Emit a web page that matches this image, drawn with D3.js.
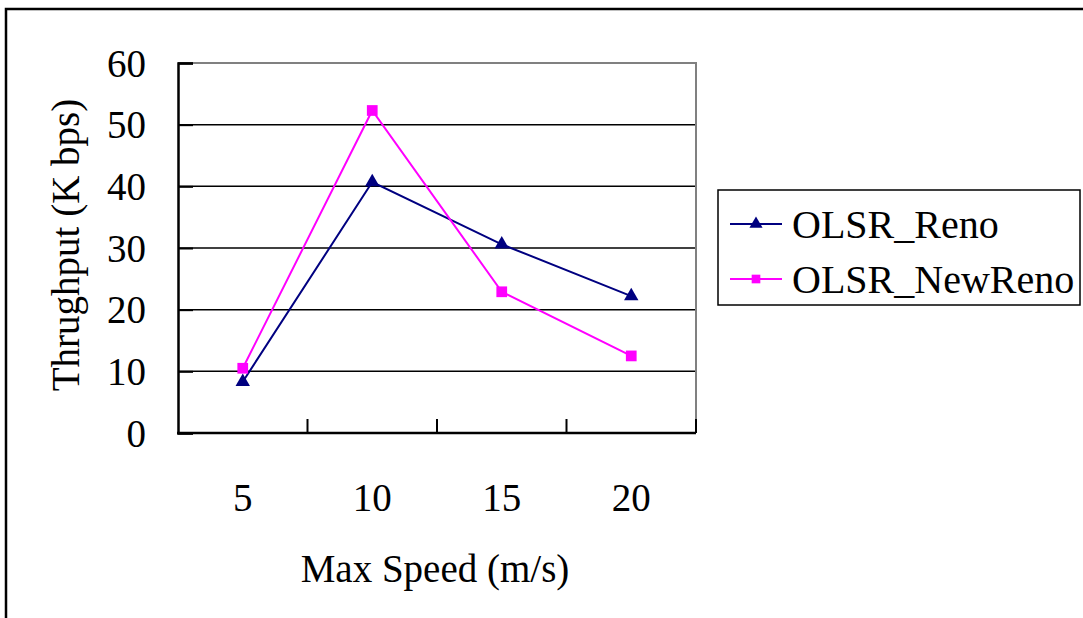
<!DOCTYPE html>
<html>
<head>
<meta charset="utf-8">
<script src="https://cdn.jsdelivr.net/npm/d3@7"></script>
<style>
  body { margin: 0; background: #fff; }
  svg text { font-family: "Liberation Serif", "Times New Roman", serif; fill: #000; }
</style>
</head>
<body>
<div id="chart"></div>
<script>
// chart data
const speeds = ["5", "10", "15", "20"];
const renoValues = [8.3, 40.7, 30.6, 22.2];
const newRenoValues = [10.5, 52.3, 22.9, 12.5];
const yTicks = [0, 10, 20, 30, 40, 50, 60];
const seriesNames = ["OLSR_Reno", "OLSR_NewReno"];

const width = 1083;
const height = 618;

const svg = d3.select("#chart")
    .append("svg")
    .attr("width", width)
    .attr("height", height);

// outer frame (only top and left edges visible)
svg.append("rect")
    .attr("x", 6).attr("y", 9)
    .attr("width", 1200).attr("height", 700)
    .attr("fill", "none")
    .attr("stroke", "#000")
    .attr("stroke-width", 2.5);

const plot = { left: 178, right: 696, top: 63, bottom: 433 };

const x = d3.scaleBand()
    .domain(speeds)
    .range([plot.left, plot.right]);

const y = d3.scaleLinear()
    .domain([0, 60])
    .range([plot.bottom, plot.top]);

// gridlines
svg.append("g")
    .selectAll("line")
    .data(yTicks.filter(d => d > 0 && d < 60))
    .enter()
    .append("line")
    .attr("x1", plot.left).attr("x2", plot.right)
    .attr("y1", d => y(d)).attr("y2", d => y(d))
    .attr("stroke", "#000")
    .attr("stroke-width", 1.5);

// plot border (grey top/right)
svg.append("path")
    .attr("d", `M${plot.left},${plot.top}H${plot.right}V${plot.bottom}`)
    .attr("fill", "none")
    .attr("stroke", "#808080")
    .attr("stroke-width", 2);

// y axis
const yAxis = svg.append("g")
    .attr("transform", `translate(${plot.left},0)`)
    .call(d3.axisRight(y).tickValues(yTicks).tickSize(15).tickFormat(""));
yAxis.select(".domain").attr("stroke-width", 2.5);
yAxis.selectAll(".tick line").attr("stroke-width", 2);

svg.append("g")
    .selectAll("text")
    .data(yTicks)
    .enter()
    .append("text")
    .attr("x", 146)
    .attr("y", d => y(d))
    .attr("dy", "0.35em")
    .attr("text-anchor", "end")
    .style("font-size", "39px")
    .text(d => d);

// x axis: ticks between categories, pointing up
const bounds = speeds.slice(1).map(s => x(s)).concat([plot.right]);
svg.append("line")
    .attr("x1", plot.left - 1).attr("x2", plot.right)
    .attr("y1", plot.bottom).attr("y2", plot.bottom)
    .attr("stroke", "#000").attr("stroke-width", 2.5);
svg.append("g")
    .selectAll("line")
    .data(bounds)
    .enter()
    .append("line")
    .attr("x1", d => d).attr("x2", d => d)
    .attr("y1", plot.bottom).attr("y2", plot.bottom - 14)
    .attr("stroke", "#000").attr("stroke-width", 2);

svg.append("g")
    .selectAll("text")
    .data(speeds)
    .enter()
    .append("text")
    .attr("x", d => x(d) + x.bandwidth() / 2)
    .attr("y", 497)
    .attr("dy", "0.35em")
    .attr("text-anchor", "middle")
    .style("font-size", "39px")
    .text(d => d);

// axis titles
svg.append("text")
    .attr("x", 435).attr("y", 568)
    .attr("dy", "0.35em")
    .attr("text-anchor", "middle")
    .style("font-size", "39px")
    .text("Max Speed (m/s)");

svg.append("text")
    .attr("transform", "translate(65,245) rotate(-90)")
    .attr("dy", "0.35em")
    .attr("text-anchor", "middle")
    .style("font-size", "39px")
    .text("Thrughput (K bps)");

// series
const cx = d => x(d) + x.bandwidth() / 2;
const series = [
    { name: seriesNames[0], values: renoValues, color: "#000080", symbol: d3.symbolTriangle, size: 90 },
    { name: seriesNames[1], values: newRenoValues, color: "#FF00FF", symbol: d3.symbolSquare, size: 115 }
];

const line = d3.line()
    .x((d, i) => cx(speeds[i]))
    .y(d => y(d));

series.forEach(s => {
    svg.append("path")
        .datum(s.values)
        .attr("d", line)
        .attr("fill", "none")
        .attr("stroke", s.color)
        .attr("stroke-width", 2);
    svg.append("g")
        .selectAll("path")
        .data(s.values)
        .enter()
        .append("path")
        .attr("transform", (d, i) => `translate(${cx(speeds[i])},${y(d)})`)
        .attr("d", d3.symbol().type(s.symbol).size(s.size))
        .attr("fill", s.color);
});

// legend
const legend = svg.append("g");
legend.append("rect")
    .attr("x", 718).attr("y", 190)
    .attr("width", 362).attr("height", 115)
    .attr("fill", "#fff")
    .attr("stroke", "#000")
    .attr("stroke-width", 1.5);

series.forEach((s, i) => {
    const ly = 224 + i * 55;
    legend.append("line")
        .attr("x1", 730).attr("x2", 782)
        .attr("y1", ly).attr("y2", ly)
        .attr("stroke", s.color).attr("stroke-width", 2);
    legend.append("path")
        .attr("transform", `translate(756,${ly})`)
        .attr("d", d3.symbol().type(s.symbol).size(75))
        .attr("fill", s.color);
    legend.append("text")
        .attr("x", 792).attr("y", ly)
        .attr("dy", "0.35em")
        .style("font-size", "40px")
        .text(s.name);
});
</script>
</body>
</html>
